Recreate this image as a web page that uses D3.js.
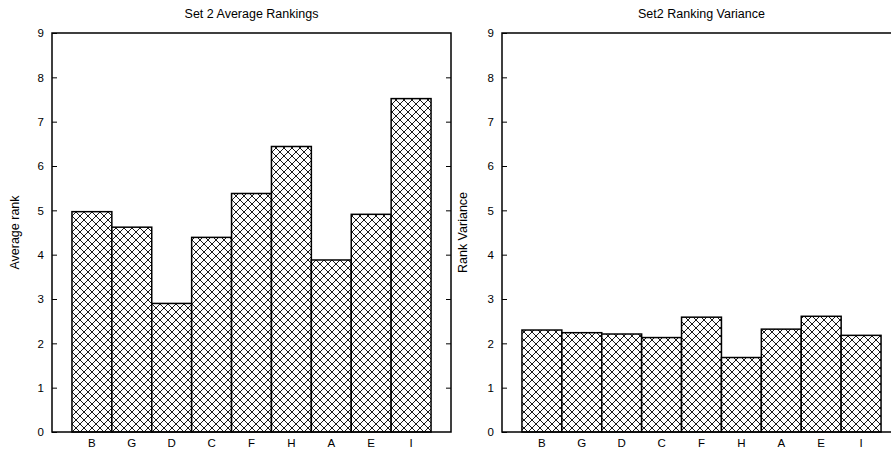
<!DOCTYPE html>
<html>
<head>
<meta charset="utf-8">
<script src="https://cdn.jsdelivr.net/npm/d3@7"></script>
<style>
  html, body { margin: 0; padding: 0; background: #fff; }
  svg { display: block; }
  text { font-family: "Liberation Sans", Arial, sans-serif; fill: #000; }
</style>
</head>
<body>
<svg id="chart" width="891" height="451"></svg>
<script>
// Categories shown along the x axis (same order in both panels)
const categories = ["B", "G", "D", "C", "F", "H", "A", "E", "I"];
// Average rank per category
const averageRank = [4.97, 4.62, 2.90, 4.39, 5.38, 6.44, 3.88, 4.91, 7.52];
// Rank variance per category
const rankVariance = [2.30, 2.24, 2.21, 2.13, 2.59, 1.68, 2.32, 2.61, 2.18];
// Y axis ticks
const yTicks = [0, 1, 2, 3, 4, 5, 6, 7, 8, 9];

const panels = [
  { title: "Set 2 Average Rankings", ylabel: "Average rank", values: averageRank,
    left: 52, right: 451, labelX: 15 },
  { title: "Set2 Ranking Variance", ylabel: "Rank Variance", values: rankVariance,
    left: 502, right: 901, labelX: 463 }
];

const plotTop = 33, plotBottom = 432;
const svg = d3.select("#chart");

// Cross-hatch fill
const defs = svg.append("defs");
const pat = defs.append("pattern")
  .attr("id", "xhatch")
  .attr("patternUnits", "userSpaceOnUse")
  .attr("width", 8).attr("height", 8);
pat.append("rect").attr("width", 8).attr("height", 8).attr("fill", "#fff");
pat.append("path")
  .attr("d", "M0,0L8,8M-1,7L1,9M7,-1L9,1M0,8L8,0M-1,1L1,-1M7,9L9,7")
  .attr("stroke", "#000").attr("stroke-width", 0.9).attr("fill", "none");

const y = d3.scaleLinear().domain([0, 9]).range([plotBottom, plotTop]);

panels.forEach(p => {
  const g = svg.append("g");
  const x = d3.scaleBand()
    .domain(categories)
    .range([p.left, p.right])
    .paddingInner(0)
    .paddingOuter(0.5);

  // bars
  g.selectAll("rect.bar")
    .data(categories.map((c, i) => ({ c, v: p.values[i] })))
    .join("rect")
    .attr("class", "bar")
    .attr("x", d => x(d.c))
    .attr("y", d => y(d.v))
    .attr("width", x.bandwidth())
    .attr("height", d => y(0) - y(d.v))
    .attr("fill", "url(#xhatch)")
    .attr("stroke", "#000")
    .attr("stroke-width", 1.5);

  // left axis with ticks pointing inward
  const yAxisL = d3.axisLeft(y).tickValues(yTicks).tickSize(-5).tickPadding(8).tickFormat(d3.format("d"));
  const gl = g.append("g").attr("transform", `translate(${p.left},0)`).call(yAxisL);
  gl.select(".domain").remove();
  gl.selectAll("line").attr("stroke", "#000").attr("stroke-width", 1);
  gl.selectAll("text").attr("font-size", 11.5);

  // right side ticks pointing inward
  const yAxisR = d3.axisRight(y).tickValues(yTicks.slice(1, -1)).tickSize(-5).tickFormat("");
  const gr = g.append("g").attr("transform", `translate(${p.right},0)`).call(yAxisR);
  gr.select(".domain").remove();
  gr.selectAll("line").attr("stroke", "#000").attr("stroke-width", 1);

  // category labels
  const xAxis = d3.axisBottom(x).tickSize(0).tickPadding(7);
  const gx = g.append("g").attr("transform", `translate(0,${plotBottom})`).call(xAxis);
  gx.select(".domain").remove();
  gx.selectAll("text").attr("font-size", 11.5);

  // frame
  g.append("rect")
    .attr("x", p.left).attr("y", plotTop)
    .attr("width", p.right - p.left).attr("height", plotBottom - plotTop)
    .attr("fill", "none").attr("stroke", "#000").attr("stroke-width", 1.5);

  // title
  g.append("text")
    .attr("x", (p.left + p.right) / 2).attr("y", 18)
    .attr("text-anchor", "middle").attr("font-size", 12.5)
    .text(p.title);

  // y label
  g.append("text")
    .attr("transform", `translate(${p.labelX},${(plotTop + plotBottom) / 2}) rotate(-90)`)
    .attr("text-anchor", "middle").attr("dy", "0.35em").attr("font-size", 12.5)
    .text(p.ylabel);
});
</script>
</body>
</html>
